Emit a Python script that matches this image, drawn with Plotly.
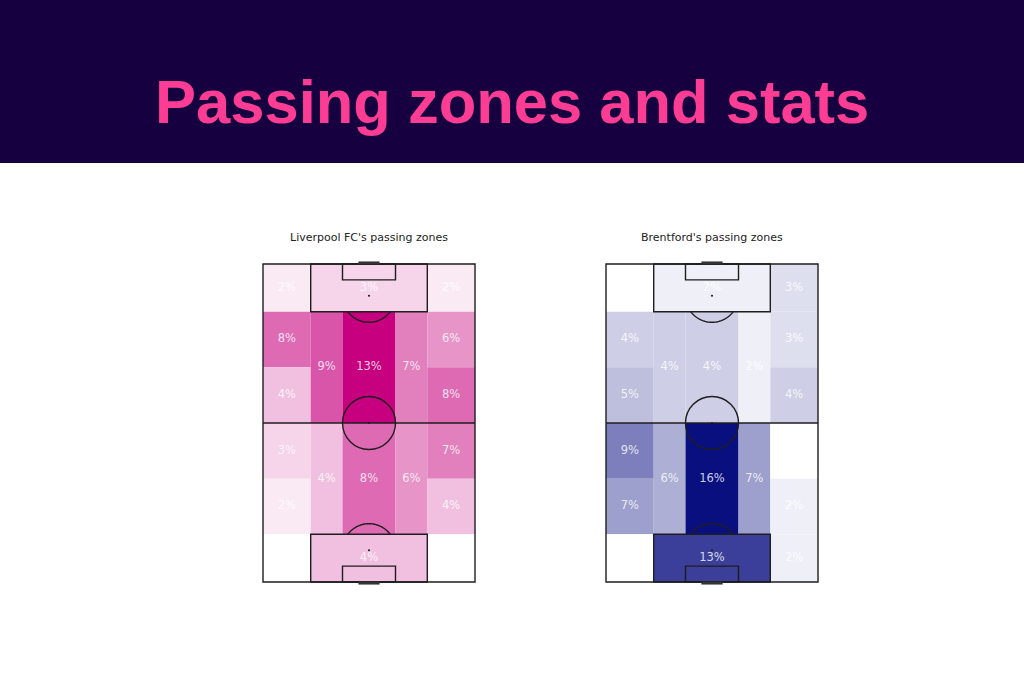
import numpy as np
import plotly.graph_objects as go

# ---------------- data ----------------
TITLE = "Passing zones and stats"
TEAMS = ["Liverpool FC's passing zones", "Brentford's passing zones"]
# zone order: top row (LW, box, RW), upper middle (LW-a, LW-b, LHS, C, RHS, RW-a, RW-b),
# lower middle (same order), bottom row (LW, box, RW)
LIVERPOOL_PCT = [2, 3, 2, 8, 4, 9, 13, 7, 6, 8, 3, 2, 4, 8, 6, 7, 4, 1, 4, 1]
BRENTFORD_PCT = [1, 2, 3, 4, 5, 4, 4, 2, 3, 4, 9, 7, 6, 16, 7, 1, 2, 1, 13, 2]
TEAM_VALUES = [LIVERPOOL_PCT, BRENTFORD_PCT]
MAX_COLORS = [(198, 0, 126), (10, 15, 128)]

# ---------------- pitch geometry (StatsBomb 80 x 120, vertical) ----------------
LANES = [0, 18, 30, 50, 62, 80]
ROWS = [0, 18, 39, 60, 81, 102, 120]
ZONES = [(0, 1, 0, 1), (1, 4, 0, 1), (4, 5, 0, 1),
         (0, 1, 1, 2), (0, 1, 2, 3), (1, 2, 1, 3), (2, 3, 1, 3), (3, 4, 1, 3), (4, 5, 1, 2), (4, 5, 2, 3),
         (0, 1, 3, 4), (0, 1, 4, 5), (1, 2, 3, 5), (2, 3, 3, 5), (3, 4, 3, 5), (4, 5, 3, 4), (4, 5, 4, 5),
         (0, 1, 5, 6), (1, 4, 5, 6), (4, 5, 5, 6)]

W, H = 1024, 683
PITCH_LEFT_PX = [263, 606]
PITCH_TOP_PX, PITCH_W_PX, PITCH_H_PX = 264, 212, 318
PAD = 1.5  # pitch units of padding so lines aren't clipped
PPU = PITCH_W_PX / 80.0

LINE_COL = "#1e1e1e"
LW = 1.4

fig = go.Figure()
shapes = []
annotations = []


def interp(c, t, lo=(255, 255, 255)):
    return "rgb(%d,%d,%d)" % tuple(round(l + (ci - l) * t) for ci, l in zip(c, lo))


for i, (vals, maxc) in enumerate(zip(TEAM_VALUES, MAX_COLORS)):
    xa = "x" if i == 0 else "x2"
    ya = "y" if i == 0 else "y2"
    axname = "xaxis" if i == 0 else "xaxis2"
    ayname = "yaxis" if i == 0 else "yaxis2"
    left = PITCH_LEFT_PX[i] - PAD * PPU
    right = PITCH_LEFT_PX[i] + PITCH_W_PX + PAD * PPU
    top = PITCH_TOP_PX - PAD * PPU
    bottom = PITCH_TOP_PX + PITCH_H_PX + PAD * PPU
    fig.update_layout(**{
        axname: dict(domain=[left / W, right / W], range=[-PAD, 80 + PAD], visible=False,
                     anchor=ya, fixedrange=True),
        ayname: dict(domain=[1 - bottom / H, 1 - top / H], range=[120 + PAD, -PAD], visible=False,
                     anchor=xa, fixedrange=True),
    })
    vmin, vmax = min(vals), max(vals)
    for (l0, l1, r0, r1), v in zip(ZONES, vals):
        t = (v - vmin) / (vmax - vmin)
        shapes.append(dict(type="rect", xref=xa, yref=ya, x0=LANES[l0], x1=LANES[l1],
                           y0=ROWS[r0], y1=ROWS[r1], fillcolor=interp(maxc, t),
                           line=dict(width=0), layer="below"))
    # labels as a text trace
    cx = [(LANES[z[0]] + LANES[z[1]]) / 2 for z in ZONES]
    cy = [(ROWS[z[2]] + ROWS[z[3]]) / 2 for z in ZONES]
    fig.add_trace(go.Scatter(x=cx, y=cy, mode="text", text=[f"{v}%" for v in vals],
                             textfont=dict(family="DejaVu Sans", size=11.5,
                                           color="rgba(255,255,255,0.8)"),
                             xaxis=xa, yaxis=ya, showlegend=False, hoverinfo="skip"))

    # pitch markings
    def line(x0, y0, x1, y1, w=LW, col=LINE_COL):
        shapes.append(dict(type="line", xref=xa, yref=ya, x0=x0, y0=y0, x1=x1, y1=y1,
                           line=dict(color=col, width=w)))

    def rect(x0, y0, x1, y1):
        shapes.append(dict(type="rect", xref=xa, yref=ya, x0=x0, y0=y0, x1=x1, y1=y1,
                           line=dict(color=LINE_COL, width=LW)))

    rect(0, 0, 80, 120)
    line(0, 60, 80, 60)
    rect(18, 0, 62, 18)
    rect(30, 0, 50, 6)
    rect(18, 102, 62, 120)
    rect(30, 114, 50, 120)
    shapes.append(dict(type="circle", xref=xa, yref=ya, x0=30, x1=50, y0=50, y1=70,
                       line=dict(color=LINE_COL, width=LW)))
    for sy in (12, 108):
        shapes.append(dict(type="circle", xref=xa, yref=ya, x0=39.6, x1=40.4, y0=sy - 0.4, y1=sy + 0.4,
                           fillcolor=LINE_COL, line=dict(width=0)))
    shapes.append(dict(type="circle", xref=xa, yref=ya, x0=39.6, x1=40.4, y0=59.6, y1=60.4,
                       fillcolor=LINE_COL, line=dict(width=0)))
    # penalty arcs
    ang = np.arccos(6 / 10)
    th = np.linspace(np.pi / 2 - ang, np.pi / 2 + ang, 40)
    for sy, sgn in ((12, 1), (108, -1)):
        ax = 40 + 10 * np.cos(th)
        ay = sy + sgn * 10 * np.sin(th)
        path = "M " + " L ".join(f"{a:.3f},{b:.3f}" for a, b in zip(ax, ay))
        shapes.append(dict(type="path", xref=xa, yref=ya, path=path,
                           line=dict(color=LINE_COL, width=LW)))
    # goals
    line(36, -0.4, 44, -0.4, w=3, col="#333333")
    line(36, 120.4, 44, 120.4, w=3, col="#333333")
    annotations.append(dict(text=TEAMS[i], xref="paper", yref="paper",
                            x=(PITCH_LEFT_PX[i] + PITCH_W_PX / 2) / W, y=1 - 237 / H,
                            showarrow=False, xanchor="center", yanchor="middle",
                            font=dict(family="DejaVu Sans", size=11, color="#222222")))

# banner
shapes.insert(0, dict(type="rect", xref="paper", yref="paper", x0=0, x1=1, y0=1 - 163 / H, y1=1,
                      fillcolor="#170040", line=dict(width=0), layer="below"))
annotations.append(dict(text=f"<b>{TITLE}</b>", xref="paper", yref="paper", x=0.5, y=1 - 101 / H,
                        showarrow=False, xanchor="center", yanchor="middle",
                        font=dict(family="Liberation Sans", size=61.5, color="#fd3c94")))

fig.update_layout(width=W, height=H, autosize=False, margin=dict(l=0, r=0, t=0, b=0, pad=0),
                  paper_bgcolor="white", plot_bgcolor="rgba(0,0,0,0)",
                  shapes=shapes, annotations=annotations, showlegend=False)

fig.write_html("out.html", config={"displayModeBar": False},
               post_script="document.body.style.margin='0px';document.body.style.overflow='hidden';")
